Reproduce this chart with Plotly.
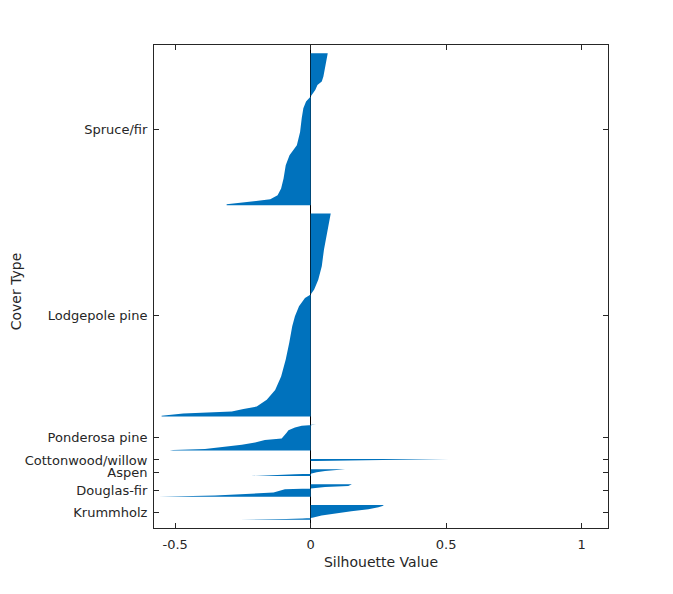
import plotly.graph_objects as go

# cover types, top to bottom, and how many observations each one has
cover_types = ["Spruce/fir", "Lodgepole pine", "Ponderosa pine",
               "Cottonwood/willow", "Aspen", "Douglas-fir", "Krummholz"]
counts = [365, 488, 62, 5, 16, 30, 35]
gap = 20

# silhouette values, at sorted-rank positions inside each cluster
spruce_rank = [0, 28, 56, 68, 76, 88, 104, 116, 132, 156, 189, 221, 245, 269,
               301, 325, 341, 351, 356, 359, 363, 365]
spruce_sil = [0.063, 0.056, 0.047, 0.041, 0.025, 0.017, 0.0, -0.017, -0.027,
              -0.033, -0.039, -0.051, -0.078, -0.092, -0.1, -0.109, -0.122,
              -0.149, -0.211, -0.26, -0.31, -0.31]

lodgepole_rank = [0, 38, 87, 127, 159, 183, 195, 203, 223, 247, 271, 311, 351,
                  392, 424, 448, 464, 470, 476, 481, 486, 488]
lodgepole_sil = [0.074, 0.063, 0.049, 0.041, 0.028, 0.013, 0.0, -0.021, -0.043,
                 -0.058, -0.068, -0.079, -0.092, -0.109, -0.131, -0.162, -0.199,
                 -0.248, -0.291, -0.47, -0.55, -0.55]

ponderosa_rank = [0, 2.4, 6.4, 12.9, 18.4, 26.2, 32.7, 36.7, 42.2, 47.7, 52.5,
                  58.2, 60.6, 62]
ponderosa_sil = [0.02, -0.033, -0.058, -0.082, -0.088, -0.098, -0.107, -0.169,
                 -0.205, -0.254, -0.316, -0.39, -0.507, -0.52]

cottonwood_rank = [0, 1, 2, 3, 4, 5]
cottonwood_sil = [0.51, 0.42, 0.28, 0.15, 0.05, 0.02]

aspen_rank = [0, 3.7, 7.2, 10.3, 11.6, 13.8, 15.3, 16]
aspen_sil = [0.127, 0.053, 0.022, 0.0, -0.058, -0.144, -0.218, -0.22]

douglas_rank = [0, 4, 6.5, 10, 11.7, 19.7, 27.1, 29.5, 30]
douglas_sil = [0.152, 0.139, 0.053, 0.0, -0.095, -0.137, -0.353, -0.544, -0.56]

krummholz_rank = [0, 2, 5, 10, 15, 20, 25, 30, 31, 32, 33.5, 35]
krummholz_sil = [0.27, 0.265, 0.25, 0.213, 0.15, 0.09, 0.04, 0.01, 0.0, -0.03,
                 -0.09, -0.26]

ranks = [spruce_rank, lodgepole_rank, ponderosa_rank, cottonwood_rank,
         aspen_rank, douglas_rank, krummholz_rank]
sils = [spruce_sil, lodgepole_sil, ponderosa_sil, cottonwood_sil,
        aspen_sil, douglas_sil, krummholz_sil]

x_ticks = [-0.5, 0, 0.5, 1]

BLUE = "#0072BD"
AX = "#262626"

fig = go.Figure()

tick_pos = []
start = gap
for cnt, rk, sv in zip(counts, ranks, sils):
    fig.add_trace(go.Scatter(
        x=sv,
        y=[start + r for r in rk],
        mode="lines",
        line=dict(width=0, color=BLUE),
        fill="tozerox",
        fillcolor=BLUE,
        showlegend=False,
        hoverinfo="skip",
    ))
    tick_pos.append(start + cnt / 2)
    start += cnt + gap
y_end = start

# page body adds 8px, so margins are pulled in by that much
fig.update_layout(
    width=673,
    height=594,
    margin=dict(l=146, r=73, t=37, b=74),
    plot_bgcolor="white",
    paper_bgcolor="white",
    font=dict(family="DejaVu Sans", size=13, color=AX),
    xaxis=dict(
        range=[-0.578, 1.097],
        tickvals=x_ticks,
        ticktext=["-0.5", "0", "0.5", "1"],
        ticks="inside",
        ticklen=5,
        tickcolor=AX,
        ticklabelstandoff=4,
        showline=True,
        linecolor=AX,
        linewidth=1,
        mirror="ticks",
        showgrid=False,
        zeroline=True,
        zerolinecolor="black",
        zerolinewidth=1,
        title=dict(text="Silhouette Value", font=dict(size=14), standoff=6),
    ),
    yaxis=dict(
        range=[y_end, 0],
        tickvals=tick_pos,
        ticktext=cover_types,
        ticks="inside",
        ticklen=5,
        tickcolor=AX,
        ticklabelstandoff=3,
        showline=True,
        linecolor=AX,
        linewidth=1,
        mirror="ticks",
        showgrid=False,
        zeroline=False,
        automargin=False,
    ),
    annotations=[dict(
        text="Cover Type",
        textangle=-90,
        xref="paper", yref="paper",
        x=-0.304, y=0.49,
        xanchor="center", yanchor="middle",
        showarrow=False,
        font=dict(size=14, color=AX),
    )],
)

fig.write_html("out.html")
